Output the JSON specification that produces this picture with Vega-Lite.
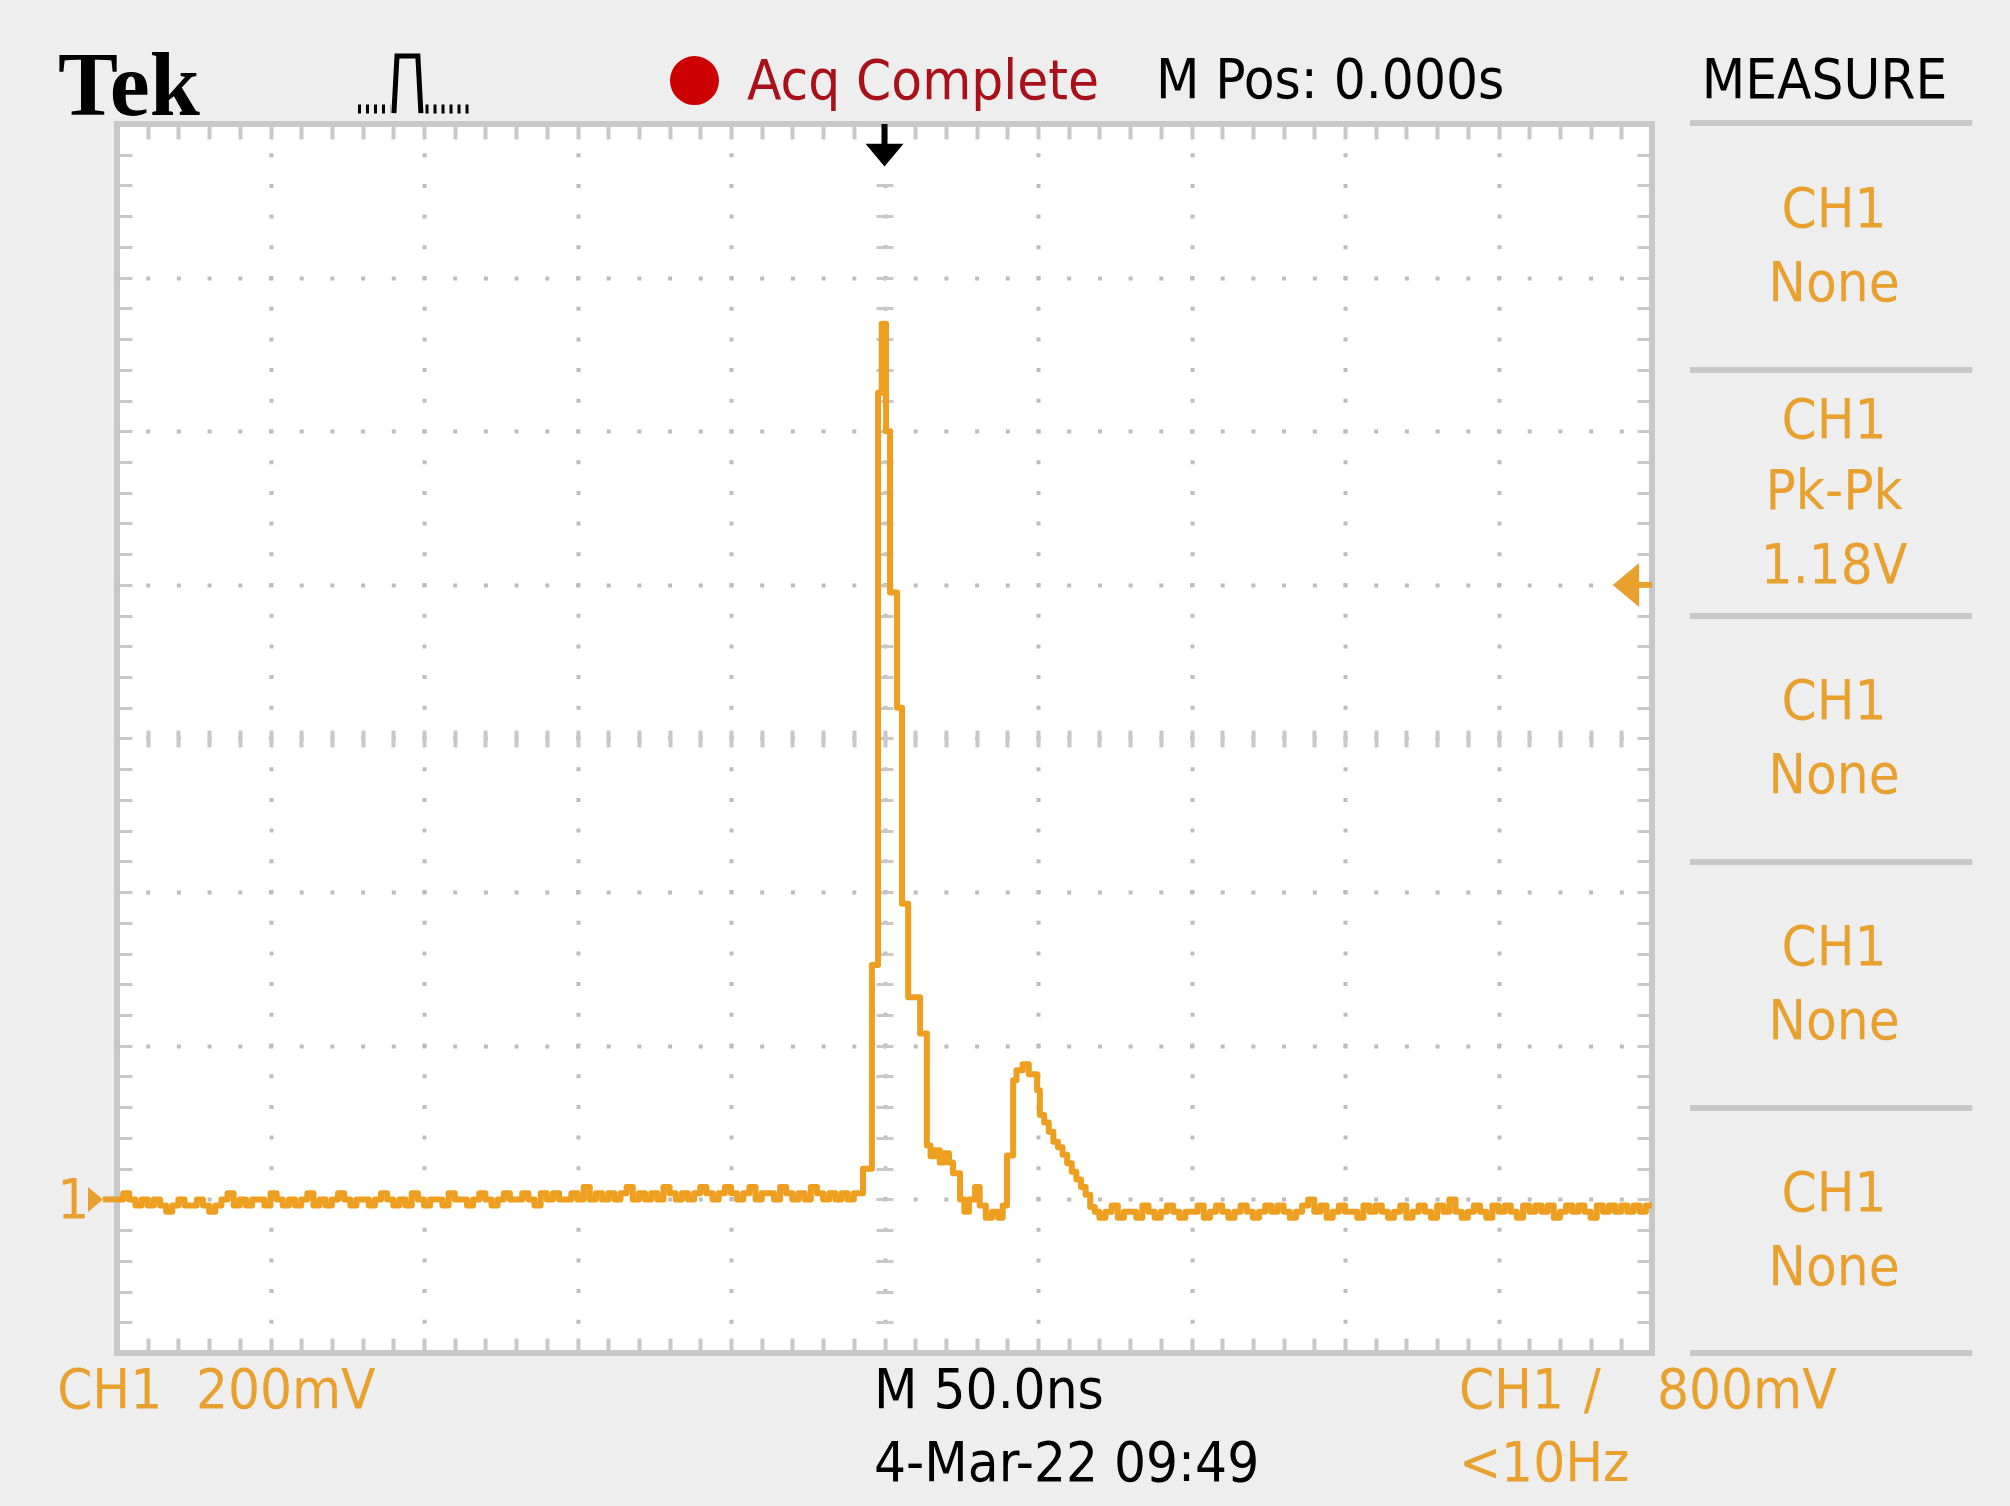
{
"$schema":"https://vega.github.io/schema/vega-lite/v6.json",
"width":1535,"height":1229,"autosize":"none",
"padding":{"left":117,"top":124,"right":358,"bottom":153},
"background":"#EEEEEE",
"config":{"view":{"fill":"#FFFFFF","stroke":"#C8C8C8","strokeWidth":6}},
"datasets":{
"trace":[
{"t":-250,"v":0},{"t":-248,"v":0.008},{"t":-246,"v":0},{"t":-244,"v":-0.008},{"t":-242,"v":0},{"t":-240,"v":-0.008},{"t":-238,"v":0},{"t":-236,"v":-0.008},{"t":-234,"v":-0.016},{"t":-232,"v":-0.008},
{"t":-230,"v":0},{"t":-228,"v":-0.008},{"t":-226,"v":-0.008},{"t":-224,"v":0},{"t":-222,"v":-0.008},{"t":-220,"v":-0.016},{"t":-218,"v":-0.008},{"t":-216,"v":0},{"t":-214,"v":0.008},{"t":-212,"v":-0.008},
{"t":-210,"v":0},{"t":-208,"v":-0.008},{"t":-206,"v":0},{"t":-204,"v":0},{"t":-202,"v":-0.008},{"t":-200,"v":0.008},{"t":-198,"v":0},{"t":-196,"v":-0.008},{"t":-194,"v":0},{"t":-192,"v":-0.008},
{"t":-190,"v":0},{"t":-188,"v":0.008},{"t":-186,"v":-0.008},{"t":-184,"v":0},{"t":-182,"v":-0.008},{"t":-180,"v":0},{"t":-178,"v":0.008},{"t":-176,"v":0},{"t":-174,"v":-0.008},{"t":-172,"v":0},
{"t":-170,"v":0},{"t":-168,"v":-0.008},{"t":-166,"v":0},{"t":-164,"v":0.008},{"t":-162,"v":0},{"t":-160,"v":-0.008},{"t":-158,"v":0},{"t":-156,"v":-0.008},{"t":-154,"v":0.008},{"t":-152,"v":0},
{"t":-150,"v":-0.008},{"t":-148,"v":0},{"t":-146,"v":0},{"t":-144,"v":-0.008},{"t":-142,"v":0.008},{"t":-140,"v":0},{"t":-138,"v":0},{"t":-136,"v":-0.008},{"t":-134,"v":0},{"t":-132,"v":0.008},
{"t":-130,"v":0},{"t":-128,"v":-0.008},{"t":-126,"v":0},{"t":-124,"v":0.008},{"t":-122,"v":0},{"t":-120,"v":0},{"t":-118,"v":0.008},{"t":-116,"v":0},{"t":-114,"v":-0.008},{"t":-112,"v":0.008},
{"t":-110,"v":0},{"t":-108,"v":0.008},{"t":-106,"v":0},{"t":-104,"v":0},{"t":-102,"v":0.008},{"t":-100,"v":0},{"t":-98,"v":0.016},{"t":-96,"v":0},{"t":-94,"v":0.008},{"t":-92,"v":0},
{"t":-90,"v":0.008},{"t":-88,"v":0},{"t":-86,"v":0.008},{"t":-84,"v":0.016},{"t":-82,"v":0},{"t":-80,"v":0.008},{"t":-78,"v":0},{"t":-76,"v":0.008},{"t":-74,"v":0},{"t":-72,"v":0.016},
{"t":-70,"v":0.008},{"t":-68,"v":0},{"t":-66,"v":0.008},{"t":-64,"v":0},{"t":-62,"v":0.008},{"t":-60,"v":0.016},{"t":-58,"v":0.008},{"t":-56,"v":0},{"t":-54,"v":0.008},{"t":-52,"v":0.016},
{"t":-50,"v":0.008},{"t":-48,"v":0},{"t":-46,"v":0.008},{"t":-44,"v":0.016},{"t":-42,"v":0},{"t":-40,"v":0.008},{"t":-38,"v":0.008},{"t":-36,"v":0},{"t":-34,"v":0.016},{"t":-32,"v":0.008},
{"t":-30,"v":0},{"t":-28,"v":0.008},{"t":-26,"v":0},{"t":-24,"v":0.016},{"t":-22,"v":0.008},{"t":-20,"v":0},{"t":-18,"v":0.008},{"t":-16,"v":0},{"t":-14,"v":0.008},{"t":-12,"v":0},
{"t":-10,"v":0.008},{"t":-8,"v":0.008},
{"t":-7,"v":0.04},{"t":-4.1,"v":0.305},{"t":-2.1,"v":1.05},{"t":-0.9,"v":1.14},{"t":0.5,"v":1.0},{"t":1.8,"v":0.79},{"t":4.1,"v":0.64},{"t":5.7,"v":0.385},{"t":7.7,"v":0.263},{"t":11.6,"v":0.216},
{"t":13.8,"v":0.07},{"t":15,"v":0.056},{"t":16.5,"v":0.064},{"t":18,"v":0.048},{"t":19.5,"v":0.06},{"t":21,"v":0.048},{"t":22.3,"v":0.034},{"t":24.6,"v":0},{"t":26,"v":-0.016},{"t":27.5,"v":0},
{"t":29.5,"v":0.016},{"t":31,"v":-0.008},{"t":33,"v":-0.024},{"t":35,"v":-0.016},{"t":37,"v":-0.024},{"t":38.5,"v":-0.008},{"t":39.9,"v":0.057},{"t":41.9,"v":0.155},{"t":43,"v":0.168},{"t":45,"v":0.176},
{"t":47,"v":0.163},{"t":49.7,"v":0.142},{"t":50.6,"v":0.11},{"t":52,"v":0.1},{"t":53.5,"v":0.088},{"t":55,"v":0.075},{"t":56.5,"v":0.068},{"t":58,"v":0.058},{"t":59.5,"v":0.047},{"t":61,"v":0.036},
{"t":62.5,"v":0.026},{"t":64,"v":0.016},{"t":65.5,"v":0.006},{"t":67,"v":-0.01},{"t":68.5,"v":-0.016},
{"t":70,"v":-0.024},{"t":72,"v":-0.016},{"t":74,"v":-0.008},{"t":76,"v":-0.024},{"t":78,"v":-0.016},{"t":80,"v":-0.016},{"t":82,"v":-0.024},{"t":84,"v":-0.008},{"t":86,"v":-0.016},{"t":88,"v":-0.024},
{"t":90,"v":-0.016},{"t":92,"v":-0.008},{"t":94,"v":-0.016},{"t":96,"v":-0.024},{"t":98,"v":-0.016},{"t":100,"v":-0.016},{"t":102,"v":-0.008},{"t":104,"v":-0.024},{"t":106,"v":-0.016},{"t":108,"v":-0.008},
{"t":110,"v":-0.016},{"t":112,"v":-0.024},{"t":114,"v":-0.016},{"t":116,"v":-0.008},{"t":118,"v":-0.016},{"t":120,"v":-0.024},{"t":122,"v":-0.016},{"t":124,"v":-0.008},{"t":126,"v":-0.016},{"t":128,"v":-0.008},
{"t":130,"v":-0.016},{"t":132,"v":-0.024},{"t":134,"v":-0.016},{"t":136,"v":-0.008},{"t":138,"v":0},{"t":140,"v":-0.016},{"t":142,"v":-0.008},{"t":144,"v":-0.024},{"t":146,"v":-0.016},{"t":148,"v":-0.008},
{"t":150,"v":-0.016},{"t":152,"v":-0.016},{"t":154,"v":-0.024},{"t":156,"v":-0.008},{"t":158,"v":-0.016},{"t":160,"v":-0.008},{"t":162,"v":-0.016},{"t":164,"v":-0.024},{"t":166,"v":-0.016},{"t":168,"v":-0.008},
{"t":170,"v":-0.024},{"t":172,"v":-0.016},{"t":174,"v":-0.008},{"t":176,"v":-0.016},{"t":178,"v":-0.024},{"t":180,"v":-0.008},{"t":182,"v":-0.016},{"t":184,"v":0},{"t":186,"v":-0.016},{"t":188,"v":-0.024},
{"t":190,"v":-0.016},{"t":192,"v":-0.008},{"t":194,"v":-0.016},{"t":196,"v":-0.024},{"t":198,"v":-0.008},{"t":200,"v":-0.016},{"t":202,"v":-0.008},{"t":204,"v":-0.016},{"t":206,"v":-0.024},{"t":208,"v":-0.008},
{"t":210,"v":-0.016},{"t":212,"v":-0.008},{"t":214,"v":-0.016},{"t":216,"v":-0.008},{"t":218,"v":-0.024},{"t":220,"v":-0.016},{"t":222,"v":-0.008},{"t":224,"v":-0.016},{"t":226,"v":-0.008},{"t":228,"v":-0.016},
{"t":230,"v":-0.024},{"t":232,"v":-0.008},{"t":234,"v":-0.016},{"t":236,"v":-0.008},{"t":238,"v":-0.016},{"t":240,"v":-0.008},{"t":242,"v":-0.016},{"t":244,"v":-0.008},{"t":246,"v":-0.016},{"t":248,"v":-0.008},{"t":250,"v":-0.008}
],
"labels":[
{"text":"Acq Complete","t":-44.8,"v":1.4325,"role":"acq"},
{"text":"M Pos: 0.000s","t":88.4,"v":1.4339,"role":"info"},
{"text":"CH1","t":-269.5,"v":-0.2719,"role":"ch"},
{"text":"200mV","t":-224.3,"v":-0.2719,"role":"ch"},
{"text":"M 50.0ns","t":-3.4,"v":-0.2719,"role":"info"},
{"text":"4-Mar-22 09:49","t":-3.4,"v":-0.3669,"role":"info"},
{"text":"CH1","t":187.1,"v":-0.2719,"role":"ch"},
{"text":"/","t":227.8,"v":-0.2719,"role":"ch"},
{"text":"800mV","t":251.6,"v":-0.2719,"role":"ch"},
{"text":"<10Hz","t":187.1,"v":-0.3669,"role":"ch"},
{"text":"1","t":-269.5,"v":-0.0245,"role":"ch"},
{"text":"MEASURE","t":306.2,"v":1.4339,"role":"panelhead"},
{"text":"CH1","t":309.3,"v":1.2657,"role":"panel"},
{"text":"None","t":309.3,"v":1.1694,"role":"panel"},
{"text":"CH1","t":309.3,"v":0.991,"role":"panel"},
{"text":"Pk-Pk","t":309.3,"v":0.8986,"role":"panel"},
{"text":"1.18V","t":309.3,"v":0.8022,"role":"panel"},
{"text":"CH1","t":309.3,"v":0.6252,"role":"panel"},
{"text":"None","t":309.3,"v":0.5288,"role":"panel"},
{"text":"CH1","t":309.3,"v":0.3049,"role":"panel"},
{"text":"None","t":309.3,"v":0.2085,"role":"panel"},
{"text":"CH1","t":309.3,"v":-0.0154,"role":"panel"},
{"text":"None","t":309.3,"v":-0.1117,"role":"panel"},
{"text":"Tek","t":-269.2,"v":1.4117,"role":"brand"}
],
"rules":[
{"kind":"sep","t":262.4,"t2":354.3,"v":1.4013,"v2":1.4013},
{"kind":"sep","t":262.4,"t2":354.3,"v":1.0797,"v2":1.0797},
{"kind":"sep","t":262.4,"t2":354.3,"v":0.7595,"v2":0.7595},
{"kind":"sep","t":262.4,"t2":354.3,"v":0.4392,"v2":0.4392},
{"kind":"sep","t":262.4,"t2":354.3,"v":0.1189,"v2":0.1189},
{"kind":"sep","t":262.4,"t2":354.3,"v":-0.2001,"v2":-0.2001},
{"kind":"trig","t":0,"t2":0,"v":1.4,"v2":1.3727},
{"kind":"lvl","t":245.4,"t2":250,"v":0.8,"v2":0.8},
{"kind":"gnd","t":-254.6,"t2":-250,"v":0,"v2":0}
],
"icon":[
{"part":"pulse","t":-159.8,"v":1.4143},{"part":"pulse","t":-158.8,"v":1.4885},{"part":"pulse","t":-152.0,"v":1.4885},{"part":"pulse","t":-151.0,"v":1.4143},
{"part":"d1","t":-171.5,"v":1.4195},{"part":"d1","t":-161,"v":1.4195},
{"part":"d2","t":-149.5,"v":1.4195},{"part":"d2","t":-135,"v":1.4195}
]
},
"resolve":{"axis":{"x":"independent","y":"independent"},"scale":{"color":"independent"}},
"layer":[
{"data":{"name":"rules"},
 "mark":{"type":"rule","strokeWidth":6},
 "encoding":{
  "x":{"field":"t","type":"quantitative","scale":{"domain":[-250,250],"nice":false,"zero":false},
   "axis":{"orient":"top","offset":-1229,"values":[-240,-230,-220,-210,-200,-190,-180,-170,-160,-150,-140,-130,-120,-110,-100,-90,-80,-70,-60,-50,-40,-30,-20,-10,0,10,20,30,40,50,60,70,80,90,100,110,120,130,140,150,160,170,180,190,200,210,220,230,240],"ticks":true,"tickSize":15,"tickWidth":4,"tickColor":"#C8C8C8","labels":false,"domain":false,"grid":false,"title":null}},
  "x2":{"field":"t2"},
  "y":{"field":"v","type":"quantitative","scale":{"domain":[-0.2,1.4],"nice":false,"zero":false},
   "axis":{"orient":"right","offset":-1535,"values":[-0.16,-0.12,-0.08,-0.04,0,0.04,0.08,0.12,0.16,0.2,0.24,0.28,0.32,0.36,0.4,0.44,0.48,0.52,0.56,0.6,0.64,0.68,0.72,0.76,0.8,0.84,0.88,0.92,0.96,1,1.04,1.08,1.12,1.16,1.2,1.24,1.28,1.32,1.36],"ticks":true,"tickSize":15,"tickWidth":3,"tickColor":"#C8C8C8","labels":false,"domain":false,"grid":false,"title":null}},
  "y2":{"field":"v2"},
  "color":{"field":"kind","type":"nominal","scale":{"domain":["sep","trig","lvl","gnd"],"range":["#C8C8C8","#000000","#E8A12E","#E8A12E"]},"legend":null}
 }},
{"data":{"name":"labels"},
 "transform":[{"filter":"datum.role=='ch'||datum.role=='info'||datum.role=='acq'"}],
 "mark":{"type":"text","align":"left","baseline":"alphabetic","font":"Liberation Sans Narrow, DejaVu Sans Condensed, sans-serif","fontSize":56},
 "encoding":{
  "x":{"field":"t","type":"quantitative","scale":{"domain":[-250,250],"nice":false,"zero":false},
   "axis":{"orient":"bottom","offset":-1229,"values":[-240,-230,-220,-210,-200,-190,-180,-170,-160,-150,-140,-130,-120,-110,-100,-90,-80,-70,-60,-50,-40,-30,-20,-10,0,10,20,30,40,50,60,70,80,90,100,110,120,130,140,150,160,170,180,190,200,210,220,230,240],"ticks":true,"tickSize":15,"tickWidth":4,"tickColor":"#C8C8C8","labels":false,"domain":false,"grid":false,"title":null}},
  "y":{"field":"v","type":"quantitative","scale":{"domain":[-0.2,1.4],"nice":false,"zero":false},
   "axis":{"orient":"left","offset":-1535,"values":[-0.16,-0.12,-0.08,-0.04,0,0.04,0.08,0.12,0.16,0.2,0.24,0.28,0.32,0.36,0.4,0.44,0.48,0.52,0.56,0.6,0.64,0.68,0.72,0.76,0.8,0.84,0.88,0.92,0.96,1,1.04,1.08,1.12,1.16,1.2,1.24,1.28,1.32,1.36],"ticks":true,"tickSize":15,"tickWidth":3,"tickColor":"#C8C8C8","labels":false,"domain":false,"grid":false,"title":null}},
  "text":{"field":"text"},
  "color":{"field":"role","type":"nominal","scale":{"domain":["ch","info","acq"],"range":["#E8A12E","#000000","#A8101A"]},"legend":null}
 }},
{"data":{"name":"labels"},
 "transform":[{"filter":"datum.role=='panel'||datum.role=='panelhead'"}],
 "mark":{"type":"text","align":"center","baseline":"alphabetic","font":"Liberation Sans Narrow, DejaVu Sans Condensed, sans-serif","fontSize":56},
 "encoding":{
  "x":{"field":"t","type":"quantitative","scale":{"domain":[-250,250],"nice":false,"zero":false},
   "axis":{"orient":"bottom","offset":-623,"values":[-240,-230,-220,-210,-200,-190,-180,-170,-160,-150,-140,-130,-120,-110,-100,-90,-80,-70,-60,-50,-40,-30,-20,-10,0,10,20,30,40,50,60,70,80,90,100,110,120,130,140,150,160,170,180,190,200,210,220,230,240],"ticks":true,"tickSize":17,"tickWidth":4,"tickColor":"#C8C8C8","labels":false,"domain":false,"grid":false,"title":null}},
  "y":{"field":"v","type":"quantitative","scale":{"domain":[-0.2,1.4],"nice":false,"zero":false},
   "axis":{"orient":"right","offset":-776,"values":[-0.16,-0.12,-0.08,-0.04,0,0.04,0.08,0.12,0.16,0.2,0.24,0.28,0.32,0.36,0.4,0.44,0.48,0.52,0.56,0.6,0.64,0.68,0.72,0.76,0.8,0.84,0.88,0.92,0.96,1,1.04,1.08,1.12,1.16,1.2,1.24,1.28,1.32,1.36],"ticks":true,"tickSize":17,"tickWidth":3,"tickColor":"#C8C8C8","labels":false,"domain":false,"grid":false,"title":null}},
  "text":{"field":"text"},
  "color":{"field":"role","type":"nominal","scale":{"domain":["panel","panelhead"],"range":["#E8A12E","#000000"]},"legend":null}
 }},
{"data":{"name":"labels"},
 "transform":[{"filter":"datum.role=='brand'"}],
 "mark":{"type":"text","align":"left","baseline":"alphabetic","font":"Liberation Serif, DejaVu Serif, serif","fontWeight":"bold","fontSize":90,"color":"#000000"},
 "encoding":{
  "x":{"field":"t","type":"quantitative","scale":{"domain":[-250,250],"nice":false,"zero":false},"axis":null},
  "y":{"field":"v","type":"quantitative","scale":{"domain":[-0.2,1.4],"nice":false,"zero":false},"axis":null},
  "text":{"field":"text"}
 }},
{"data":{"name":"icon"},
 "transform":[{"filter":"datum.part=='pulse'"}],
 "mark":{"type":"line","color":"#000000","strokeWidth":5,"strokeJoin":"miter"},
 "encoding":{
  "x":{"field":"t","type":"quantitative","scale":{"domain":[-250,250],"nice":false,"zero":false},"axis":null},
  "y":{"field":"v","type":"quantitative","scale":{"domain":[-0.2,1.4],"nice":false,"zero":false},"axis":null}
 }},
{"data":{"name":"icon"},
 "transform":[{"filter":"datum.part!='pulse'"}],
 "mark":{"type":"line","color":"#000000","strokeWidth":9,"strokeDash":[3,5]},
 "encoding":{
  "x":{"field":"t","type":"quantitative","scale":{"domain":[-250,250],"nice":false,"zero":false},"axis":null},
  "y":{"field":"v","type":"quantitative","scale":{"domain":[-0.2,1.4],"nice":false,"zero":false},"axis":null},
  "detail":{"field":"part"}
 }},
{"data":{"values":[{"t":-61.9,"v":1.4566}]},
 "mark":{"type":"point","shape":"circle","filled":true,"size":2400,"color":"#CC0000","opacity":1},
 "encoding":{
  "x":{"field":"t","type":"quantitative","scale":{"domain":[-250,250],"nice":false,"zero":false},"axis":null},
  "y":{"field":"v","type":"quantitative","scale":{"domain":[-0.2,1.4],"nice":false,"zero":false},"axis":null}
 }},
{"data":{"values":[{"t":0,"v":1.3596}]},
 "mark":{"type":"point","shape":"M-1,-0.6L1,-0.6L0,0.6Z","filled":true,"size":1444,"color":"#000000","opacity":1},
 "encoding":{
  "x":{"field":"t","type":"quantitative","scale":{"domain":[-250,250],"nice":false,"zero":false},"axis":null},
  "y":{"field":"v","type":"quantitative","scale":{"domain":[-0.2,1.4],"nice":false,"zero":false},"axis":null}
 }},
{"data":{"values":[{"t":241.5,"v":0.8}]},
 "mark":{"type":"point","shape":"M-0.6,0L0.6,-1L0.6,1Z","filled":true,"size":1936,"color":"#E8A12E","opacity":1},
 "encoding":{
  "x":{"field":"t","type":"quantitative","scale":{"domain":[-250,250],"nice":false,"zero":false},"axis":null},
  "y":{"field":"v","type":"quantitative","scale":{"domain":[-0.2,1.4],"nice":false,"zero":false},"axis":null}
 }},
{"data":{"values":[{"t":-257.0,"v":0}]},
 "mark":{"type":"point","shape":"M0.6,0L-0.6,-1L-0.6,1Z","filled":true,"size":625,"color":"#E8A12E","opacity":1},
 "encoding":{
  "x":{"field":"t","type":"quantitative","scale":{"domain":[-250,250],"nice":false,"zero":false},"axis":null},
  "y":{"field":"v","type":"quantitative","scale":{"domain":[-0.2,1.4],"nice":false,"zero":false},"axis":null}
 }},
{"data":{"name":"trace"},
 "mark":{"type":"line","interpolate":"step-after","color":"#EE9F1F","strokeWidth":6,"strokeJoin":"round"},
 "encoding":{
  "x":{"field":"t","type":"quantitative","scale":{"domain":[-250,250],"nice":false,"zero":false},
   "axis":{"orient":"bottom","values":[-200,-150,-100,-50,0,50,100,150,200],"grid":true,"gridColor":"#BDBDBD","gridWidth":4,"gridDash":[4,26.7],"gridDashOffset":2,"gridOpacity":1,"ticks":false,"labels":false,"domain":false,"title":null}},
  "y":{"field":"v","type":"quantitative","scale":{"domain":[-0.2,1.4],"nice":false,"zero":false},
   "axis":{"orient":"left","values":[0,0.2,0.4,0.6,0.8,1.0,1.2],"grid":true,"gridColor":"#BDBDBD","gridWidth":4,"gridDash":[4,26.7],"gridDashOffset":2,"gridOpacity":1,"ticks":false,"labels":false,"domain":false,"title":null}}
 }}
]
}
